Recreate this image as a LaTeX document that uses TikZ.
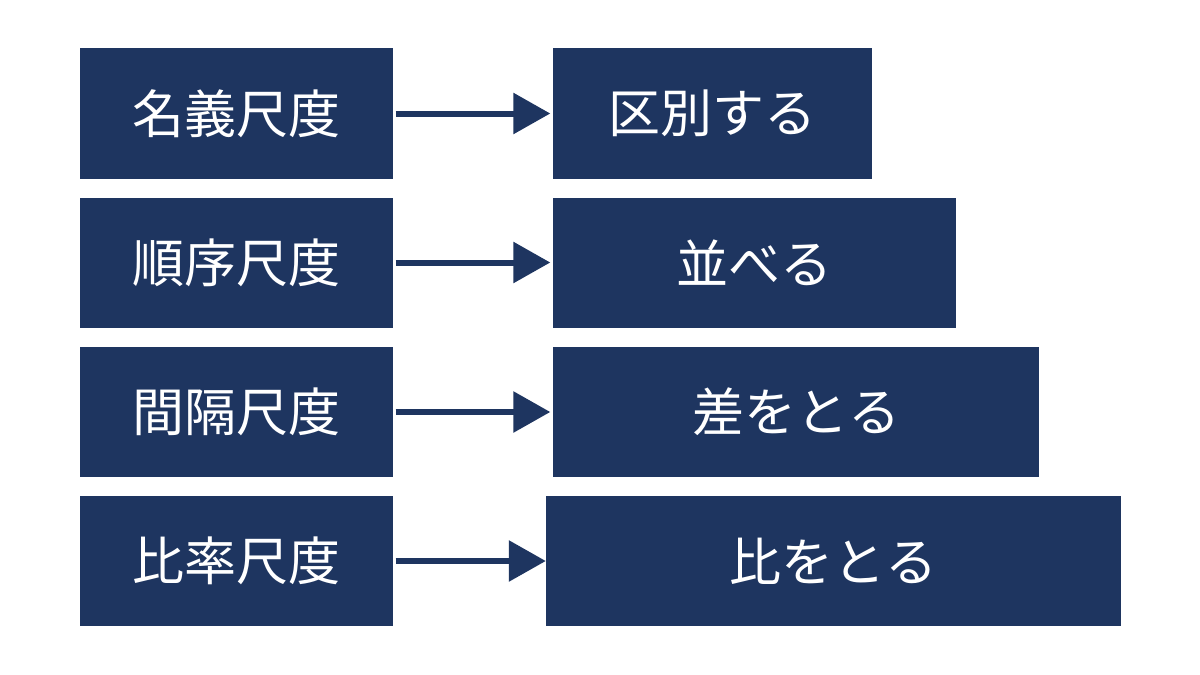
\documentclass[tikz,border=0pt]{standalone}
\usepackage{fontspec}
\setmainfont{Noto Sans CJK JP}
\usetikzlibrary{arrows.meta}
\definecolor{navy}{HTML}{1E3560}
\tikzset{
  box/.style={fill=navy, draw=none, inner sep=0pt, text=white,
    font=\fontsize{52}{60}\selectfont, anchor=center},
  conn/.style={draw=navy, line width=6pt,
    -{Triangle[length=37pt,width=40pt]}, shorten <=3pt}
}
\begin{document}
\begin{tikzpicture}[x=1pt,y=-1pt]
\useasboundingbox[fill=white] (0,0) rectangle (1200,675);
% left boxes
\node[box, minimum width=313pt, minimum height=131pt] (l1) at (236,113.5) {名義尺度};
\node[box, minimum width=313pt, minimum height=130pt] (l2) at (236,262.5) {順序尺度};
\node[box, minimum width=313pt, minimum height=130pt] (l3) at (236,412) {間隔尺度};
\node[box, minimum width=313pt, minimum height=130pt] (l4) at (236,561) {比率尺度};
% right boxes
\node[box, minimum width=319pt, minimum height=131pt] (r1) at (712.5,113.5) {区別する};
\node[box, minimum width=403pt, minimum height=130pt] (r2) at (754.5,262.5) {並べる};
\node[box, minimum width=486pt, minimum height=130pt] (r3) at (796,412) {差をとる};
\node[box, minimum width=574.5pt, minimum height=130pt] (r4) at (833.25,561) {比をとる};
% connectors
\draw[conn, shorten >=2.5pt] (l1.east) -- (r1.west);
\draw[conn, shorten >=2.5pt] (l2.east) -- (r2.west);
\draw[conn, shorten >=2.5pt] (l3.east) -- (r3.west);
\draw[conn] (l4.east) -- (r4.west);
\end{tikzpicture}
\end{document}
